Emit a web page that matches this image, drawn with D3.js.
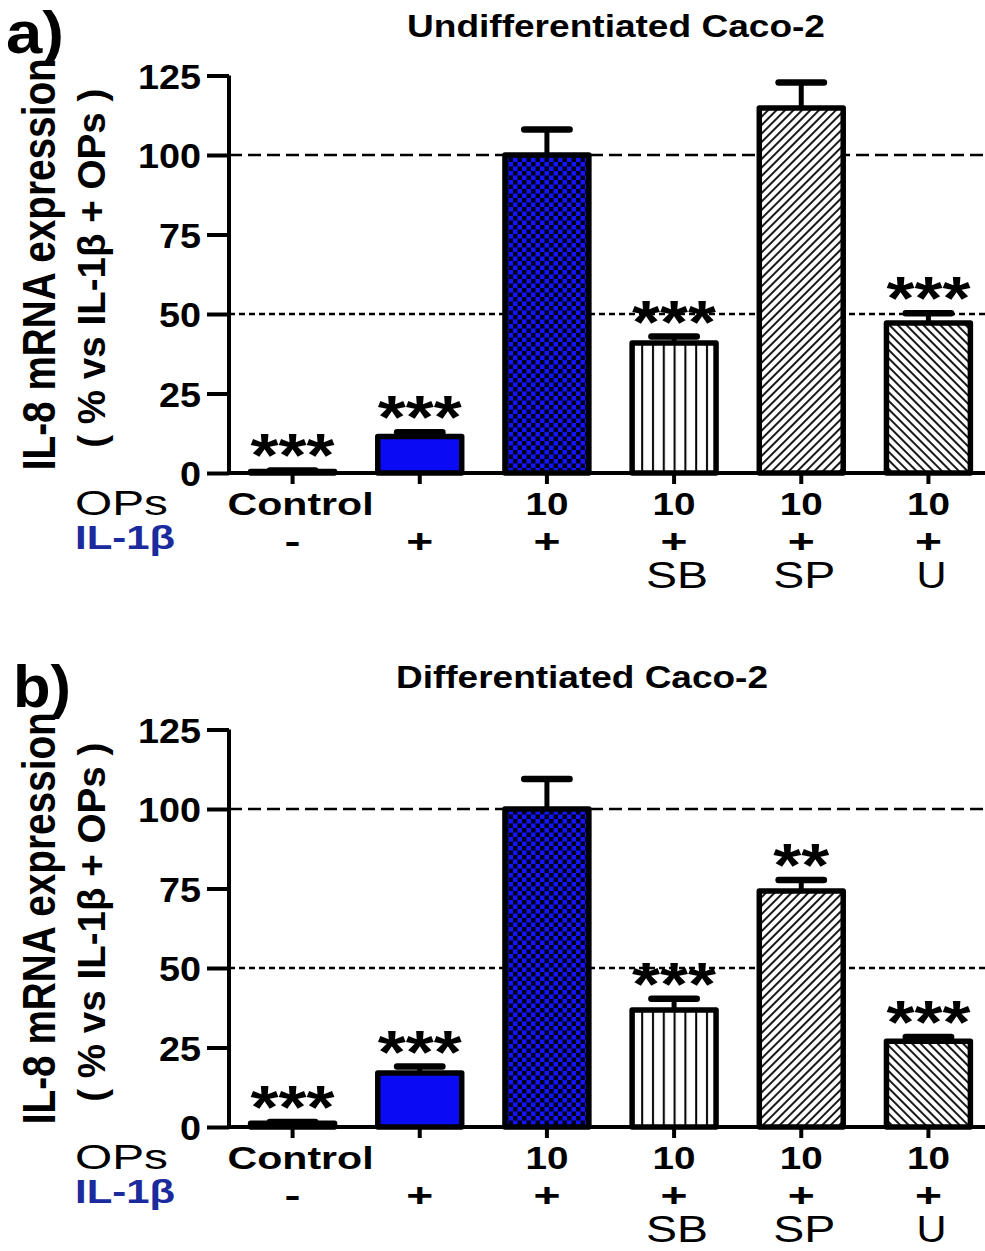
<!DOCTYPE html>
<html>
<head>
<meta charset="utf-8">
<script src="https://cdn.jsdelivr.net/npm/d3@7"></script>
<style>
  html, body { margin: 0; padding: 0; background: #fff; }
  svg { display: block; }
  text { font-family: "Liberation Sans", Arial, sans-serif; }
</style>
</head>
<body>
<svg id="chart" width="985" height="1251"></svg>
<script>
// ---------- data ----------
const categories = ["Control", "IL-1β", "OPs", "OPs+SB", "OPs+SP", "OPs+U"];
const opsLabels = ["Control", "", "10", "10", "10", "10"];
const il1bLabels = ["-", "+", "+", "+", "+", "+"];
const inhibitorLabels = ["", "", "", "SB", "SP", "U"];

const undiffValues = [0.5, 11.5, 100, 40.9, 114.8, 47.2];
const undiffErrors = [0.3, 1.3, 8, 2, 8, 3];
const undiffSig = ["***", "***", "", "***", "", "***"];

const diffValues = [1.2, 17.0, 100, 36.8, 74.2, 27.0];
const diffErrors = [0.4, 2, 9.4, 3.5, 3.5, 1.3];
const diffSig = ["***", "***", "", "***", "**", "***"];

const yTicks = [0, 25, 50, 75, 100, 125];
const refLines = [100, 50];
const panelTitles = ["Undifferentiated Caco-2", "Differentiated Caco-2"];
const panelLetters = ["a)", "b)"];
const yLabelLine1 = "IL-8 mRNA expression";
const yLabelLine2 = "( % vs IL-1β + OPs )";

// ---------- drawing ----------
const svg = d3.select("#chart");
const defs = svg.append("defs");

// patterns
const checker = defs.append("pattern").attr("id", "checker")
  .attr("patternUnits", "userSpaceOnUse").attr("width", 9).attr("height", 9);
checker.append("rect").attr("width", 9).attr("height", 9).attr("fill", "#1414ff");
checker.append("rect").attr("width", 4.5).attr("height", 4.5).attr("fill", "#000018");
checker.append("rect").attr("x", 4.5).attr("y", 4.5).attr("width", 4.5).attr("height", 4.5).attr("fill", "#000018");

const vlines = defs.append("pattern").attr("id", "vlines")
  .attr("patternUnits", "userSpaceOnUse").attr("width", 10.8).attr("height", 10);
vlines.append("rect").attr("width", 10.8).attr("height", 10).attr("fill", "#fff");
vlines.append("line").attr("x1", 5).attr("x2", 5).attr("y1", 0).attr("y2", 10)
  .attr("stroke", "#000").attr("stroke-width", 2);

function diagPattern(id, dir) {
  const p = defs.append("pattern").attr("id", id)
    .attr("patternUnits", "userSpaceOnUse").attr("width", 6).attr("height", 6)
    .attr("patternTransform", `rotate(${dir})`);
  p.append("rect").attr("width", 6).attr("height", 6).attr("fill", "#fff");
  p.append("line").attr("x1", 0).attr("x2", 6).attr("y1", 3).attr("y2", 3)
    .attr("stroke", "#000").attr("stroke-width", 1.8);
}
diagPattern("diagUp", -45);
diagPattern("diagDown", 45);

const fills = ["#ffffff", "#0a0af5", "url(#checker)", "url(#vlines)", "url(#diagUp)", "url(#diagDown)"];

const x = d3.scaleBand().domain(categories).range([229, 992])
  .paddingInner(0.34).paddingOuter(0.17);

function drawPanel(opts) {
  const { y0, yTop, values, errors, sig, title, titleX, titleY, titleLen, letter, letterX, letterY } = opts;
  const g = svg.append("g");
  const y = d3.scaleLinear().domain([0, 125]).range([y0, yTop]);

  // reference dashed lines
  g.selectAll(".ref").data(refLines).enter().append("line")
    .attr("x1", 229).attr("x2", 985)
    .attr("y1", d => y(d)).attr("y2", d => y(d))
    .attr("stroke", "#000").attr("stroke-width", 2.6)
    .attr("stroke-dasharray", d => d === 100 ? "13,6" : "6,4");

  // bars
  g.selectAll(".bar").data(categories).enter().append("rect")
    .attr("x", d => x(d)).attr("width", x.bandwidth())
    .attr("y", (d, i) => y(values[i]))
    .attr("height", (d, i) => y(0) - y(values[i]))
    .attr("fill", (d, i) => fills[i])
    .attr("stroke", "#000").attr("stroke-width", 5.5).attr("stroke-linejoin", "round");

  // error bars (upper only)
  const cw = x.bandwidth() * 0.27;
  categories.forEach((c, i) => {
    const cx = x(c) + x.bandwidth() / 2;
    const top = y(values[i] + errors[i]);
    g.append("line").attr("x1", cx).attr("x2", cx)
      .attr("y1", y(values[i])).attr("y2", top)
      .attr("stroke", "#000").attr("stroke-width", 5);
    g.append("line").attr("x1", cx - cw).attr("x2", cx + cw)
      .attr("y1", top).attr("y2", top)
      .attr("stroke", "#000").attr("stroke-width", 6.5).attr("stroke-linecap", "round");
    if (sig[i]) {
      g.append("text").attr("x", cx).attr("y", top + 6)
        .attr("text-anchor", "middle").attr("font-weight", "bold").attr("font-size", 62)
        .attr("textLength", sig[i].length * 28).attr("lengthAdjust", "spacingAndGlyphs")
        .text(sig[i]);
    }
  });

  // y axis
  const yAxis = g.append("g").attr("transform", "translate(229,0)")
    .call(d3.axisLeft(y).tickValues(yTicks).tickSize(22).tickPadding(6).tickFormat(d3.format("d")));
  yAxis.select(".domain").attr("stroke-width", 4).attr("d", `M0,${y(125)}V${y(0) + 2}`);
  yAxis.selectAll(".tick line").attr("stroke-width", 4);
  yAxis.selectAll(".tick text").attr("font-size", 35).attr("font-weight", "bold")
    .attr("fill", "#000").attr("dy", "0.36em")
    .attr("font-family", "'Liberation Sans', Arial, sans-serif")
    .attr("textLength", d => String(d).length * 21).attr("lengthAdjust", "spacingAndGlyphs");

  // x axis
  const xAxis = g.append("g").attr("transform", `translate(0,${y0})`)
    .call(d3.axisBottom(x).tickSize(11).tickFormat(""));
  xAxis.select(".domain").attr("stroke-width", 4).attr("d", `M227,0H992`);
  xAxis.selectAll(".tick line").attr("stroke-width", 4);

  // category rows
  const row1 = y0 + 42, row2 = y0 + 76, row3 = y0 + 115;
  g.append("text").attr("x", 75).attr("y", row1).attr("font-size", 35)
    .attr("textLength", 93).attr("lengthAdjust", "spacingAndGlyphs").text("OPs");
  g.append("text").attr("x", 75).attr("y", row2).attr("font-size", 33).attr("font-weight", "bold")
    .attr("fill", "#1b2a9c").attr("textLength", 100).attr("lengthAdjust", "spacingAndGlyphs").text("IL-1β");

  categories.forEach((c, i) => {
    const cx = x(c) + x.bandwidth() / 2;
    if (opsLabels[i]) {
      const t = opsLabels[i];
      g.append("text").attr("x", cx + (t === "Control" ? 8 : 0)).attr("y", row1)
        .attr("text-anchor", "middle").attr("font-size", 32).attr("font-weight", "bold")
        .attr("textLength", t === "Control" ? 146 : 43).attr("lengthAdjust", "spacingAndGlyphs").text(t);
    }
    g.append("text").attr("x", cx).attr("y", row2 + 4)
      .attr("text-anchor", "middle").attr("font-size", 34).attr("font-weight", "bold")
      .attr("textLength", il1bLabels[i] === "+" ? 27 : 16).attr("lengthAdjust", "spacingAndGlyphs").text(il1bLabels[i]);
    if (inhibitorLabels[i]) {
      const t = inhibitorLabels[i];
      g.append("text").attr("x", cx + 3).attr("y", row3)
        .attr("text-anchor", "middle").attr("font-size", 36)
        .attr("textLength", t.length === 1 ? 30 : 62).attr("lengthAdjust", "spacingAndGlyphs").text(t);
    }
  });

  // y labels
  const cy = (y(0) + y(125)) / 2;
  g.append("text").attr("transform", `translate(55,${cy - 10}) rotate(-90)`)
    .attr("text-anchor", "middle").attr("font-size", 47).attr("font-weight", "bold")
    .attr("textLength", 412).attr("lengthAdjust", "spacingAndGlyphs").text(yLabelLine1);
  g.append("text").attr("transform", `translate(105,${cy - 6}) rotate(-90)`)
    .attr("text-anchor", "middle").attr("font-size", 38).attr("font-weight", "bold")
    .attr("textLength", 359).attr("lengthAdjust", "spacingAndGlyphs").text(yLabelLine2);

  // title
  g.append("text").attr("x", titleX).attr("y", titleY).attr("text-anchor", "middle")
    .attr("font-size", 31).attr("font-weight", "bold")
    .attr("textLength", titleLen).attr("lengthAdjust", "spacingAndGlyphs").text(title);

  // panel letter
  g.append("text").attr("x", letterX).attr("y", letterY)
    .attr("font-size", 60).attr("font-weight", "bold")
    .attr("textLength", 58).attr("lengthAdjust", "spacingAndGlyphs").text(letter);
}

drawPanel({ y0: 473, yTop: 75.5, values: undiffValues, errors: undiffErrors, sig: undiffSig,
  title: panelTitles[0], titleX: 616, titleY: 37, titleLen: 418,
  letter: panelLetters[0], letterX: 6, letterY: 53 });
drawPanel({ y0: 1127, yTop: 729.5, values: diffValues, errors: diffErrors, sig: diffSig,
  title: panelTitles[1], titleX: 582, titleY: 688, titleLen: 372,
  letter: panelLetters[1], letterX: 13, letterY: 707 });
</script>
</body>
</html>
